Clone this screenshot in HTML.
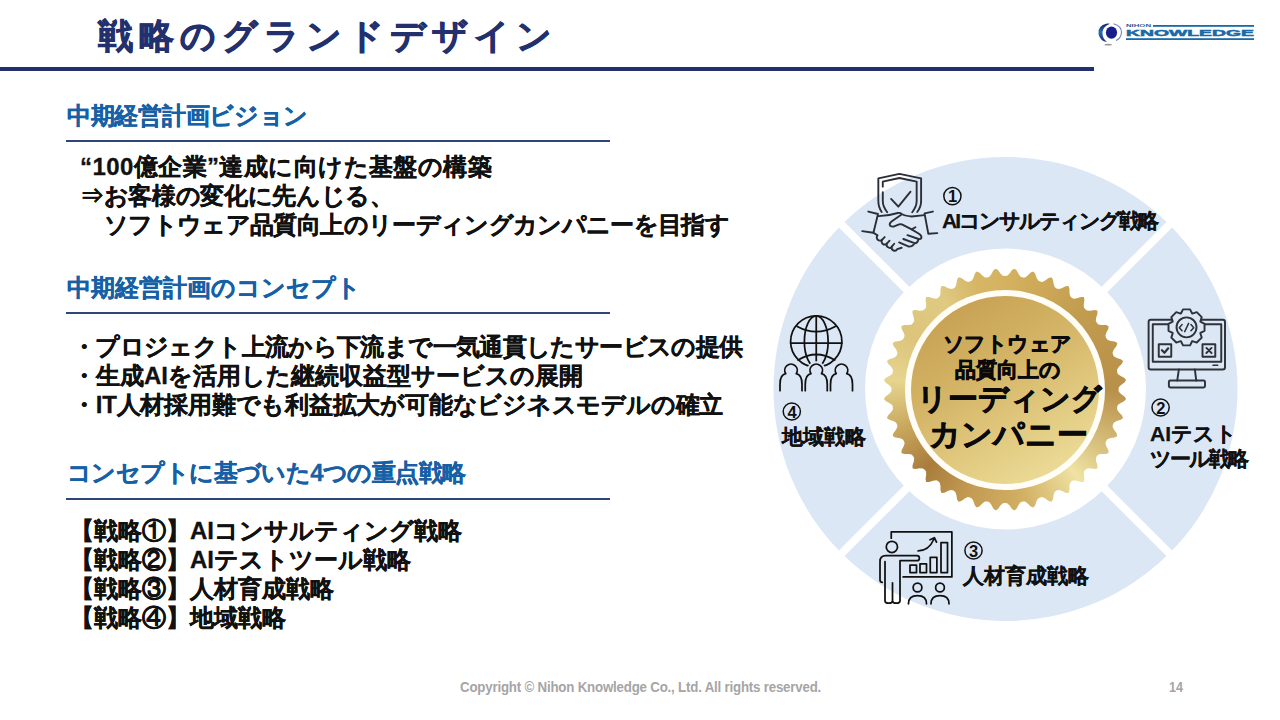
<!DOCTYPE html>
<html lang="ja">
<head>
<meta charset="utf-8">
<style>
html,body{margin:0;padding:0;background:#fff;}
body{width:1280px;height:720px;overflow:hidden;position:relative;font-family:"Liberation Sans",sans-serif;}
.t{position:absolute;white-space:nowrap;line-height:1;}
.title{left:97.5px;top:17.5px;font-size:35px;font-weight:bold;color:#23306e;letter-spacing:6px;-webkit-text-stroke:0.8px #23306e;}
.hline{position:absolute;left:0;top:67px;width:1094px;height:4px;background:#23306e;}
.h3{letter-spacing:-0.58px;}
.h{left:67px;font-size:24px;font-weight:bold;color:#1660a6;-webkit-text-stroke:0.3px #1660a6;}
.ul{position:absolute;left:66px;width:544px;height:2px;background:#2f4677;}
.b{font-size:24px;font-weight:bold;color:#111;-webkit-text-stroke:0.3px #111;}
.foot{left:460px;top:680px;font-size:14px;font-weight:bold;color:#a5a5a5;transform-origin:0 0;transform:scaleX(0.948);letter-spacing:-0.2px;}
.pg{left:1169px;top:680px;font-size:14px;font-weight:bold;color:#a5a5a5;transform-origin:0 0;transform:scaleX(0.9);}
.seal{position:absolute;left:884px;top:268.5px;width:242px;height:242px;background:conic-gradient(from 0deg at 50% 50%,#d4b25f 0deg,#c29c4e 45deg,#b8904a 90deg,#ddc886 125deg,#efe3a3 140deg,#d2b064 170deg,#c39a52 200deg,#a97c3c 225deg,#c9a85e 250deg,#e6d48f 275deg,#dcc47a 300deg,#e0ca82 325deg,#d6b666 345deg,#d4b25f 360deg);}
.sealring{position:absolute;left:905px;top:289.5px;width:200px;height:200px;border-radius:50%;background:#fffdf6;}
.sealdisc{position:absolute;left:911px;top:295.5px;width:188px;height:188px;border-radius:50%;background:linear-gradient(150deg,#c29a4c 0%,#d4b466 40%,#e3cd84 70%,#f1e4a4 100%);}
.st{font-weight:bold;color:#0a0a0a;-webkit-text-stroke:0.7px #0a0a0a;}
.d{font-size:21px;font-weight:bold;color:#111;-webkit-text-stroke:0.25px #111;}
</style>
</head>
<body>
<div class="t title">戦略のグランドデザイン</div>
<div class="hline"></div>

<!-- logo -->
<svg style="position:absolute;left:1090px;top:14px" width="180" height="40" viewBox="1090 14 180 40">
  <defs><linearGradient id="lg1" x1="0" y1="0" x2="0" y2="1"><stop offset="0" stop-color="#101d70"/><stop offset="0.45" stop-color="#2a6fae"/><stop offset="1" stop-color="#1b2a80"/></linearGradient></defs>
  <ellipse cx="1108.2" cy="44.7" rx="3.6" ry="0.9" fill="#9a9a9a"/>
  <path d="M1107,23.5 Q1097,26 1098.5,34 Q1100,41 1107,42 Q1102,38 1102.5,32 Q1103,26.5 1110,23.8 Z" fill="url(#lg1)"/>
  <path d="M1113.5,23.8 Q1121.5,26 1121.5,32.5 Q1121,38.5 1116,40.5" stroke="#6f7fc4" stroke-width="1.1" fill="none"/>
  <ellipse cx="1111.5" cy="32.6" rx="5.6" ry="6.2" fill="#181d8a"/>
  <rect x="1153" y="25" width="101" height="1.8" fill="#1a6aa8"/>
  <rect x="1126" y="38.2" width="128" height="1.8" fill="#1a6aa8"/>
  <text x="1126" y="27.3" font-size="4" font-weight="bold" fill="#2a5a96" font-family="Liberation Sans" textLength="25" lengthAdjust="spacingAndGlyphs">NIHON</text>
  <text x="1126" y="36" font-size="9.2" font-weight="bold" fill="#1a6aa8" stroke="#1a6aa8" stroke-width="0.5" font-family="Liberation Sans" textLength="128" lengthAdjust="spacingAndGlyphs">KNOWLEDGE</text>
</svg>

<div class="t h" style="top:104px;letter-spacing:-0.3px">中期経営計画ビジョン</div>
<div class="ul" style="top:140px"></div>
<div class="t b" style="left:80px;top:155px;letter-spacing:0.42px">“100億企業”達成に向けた基盤の構築</div>
<div class="t b" style="left:80px;top:184px;letter-spacing:-0.33px">⇒お客様の変化に先んじる、</div>
<div class="t b" style="left:104px;top:213px;letter-spacing:-0.65px">ソフトウェア品質向上のリーディングカンパニーを目指す</div>

<div class="t h" style="top:276px">中期経営計画のコンセプト</div>
<div class="ul" style="top:312px"></div>
<div class="t b" style="left:72px;top:335px;letter-spacing:-0.63px">・プロジェクト上流から下流まで一気通貫したサービスの提供</div>
<div class="t b" style="left:72px;top:364px">・生成AIを活用した継続収益型サービスの展開</div>
<div class="t b" style="left:72px;top:393px;letter-spacing:-0.22px">・IT人材採用難でも利益拡大が可能なビジネスモデルの確立</div>

<div class="t h h3" style="top:461px">コンセプトに基づいた4つの重点戦略</div>
<div class="ul" style="top:498px"></div>
<div class="t b" style="left:70px;top:519px">【戦略①】AIコンサルティング戦略</div>
<div class="t b" style="left:70px;top:548px">【戦略②】AIテストツール戦略</div>
<div class="t b" style="left:70px;top:577px">【戦略③】人材育成戦略</div>
<div class="t b" style="left:70px;top:606px">【戦略④】地域戦略</div>

<!-- diagram -->
<svg style="position:absolute;left:0;top:0" width="1280" height="720" viewBox="0 0 1280 720">
  <circle cx="1005.5" cy="389" r="232" fill="#dbe7f5"/>
  <circle cx="1005.5" cy="389" r="140.5" fill="#fff"/>
  <g stroke="#fff" stroke-width="8">
    <line x1="837" y1="220" x2="916" y2="299"/>
    <line x1="1174" y1="220" x2="1095" y2="299"/>
    <line x1="837" y1="558" x2="916" y2="479"/>
    <line x1="1174" y1="558" x2="1095" y2="479"/>
  </g>
</svg>
<svg style="position:absolute;left:0;top:0" width="1280" height="720" viewBox="0 0 1280 720" fill="none" stroke-linecap="round" stroke-linejoin="round">
  <!-- icon1 shield handshake -->
  <g transform="translate(860,170) scale(0.1111)" stroke="#2a2e36" stroke-width="17">
    <path d="M195,378 Q165,335 165,280 L165,75 L355,35 L550,75 L550,280 Q550,335 515,378"/>
    <path d="M205,150 L205,105 L355,72 L510,105 L510,280 Q510,330 470,380"/>
    <path d="M205,200 L205,280 Q205,330 245,380"/>
    <path d="M280,260 L345,330 L455,195"/>
    <path d="M75,374 L162,396 L121,565 M20,550 L121,565"/>
    <path d="M581,390 L656,374 M581,393 L615,574 L696,568"/>
    <path d="M162,415 Q246,416 340,387 Q362,383 375,395 Q396,412 465,418 L581,406"/>
    <path d="M371,402 L290,459 Q258,482 271,502 Q285,512 302,509 L352,490 Q365,486 377,490 L465,534 L527,571 Q560,590 552,612 Q545,625 527,621 L427,587"/>
    <path d="M465,534 L499,515"/>
    <path d="M527,621 Q520,660 490,659 L390,621 M490,659 Q478,690 440,690 L352,652"/>
    <path d="M121,565 L158,588 A10,10 0 0 0 200,626 A10,10 0 0 0 244,660 A10,10 0 0 0 288,688 A10,10 0 0 0 335,712 L375,700"/>
    <path d="M200,626 L222,604 M244,660 L266,636 M288,688 L308,664"/>
  </g>
  <!-- icon2 monitor gear -->
  <g transform="translate(1140,300) scale(0.13889)" stroke="#2f3238" stroke-width="14">
    <rect x="62" y="142" width="550" height="358" rx="16"/>
    <path d="M92,445 L92,175 L585,175 L585,445 Z"/>
    <path d="M525,470 L560,470" stroke-width="10"/>
    <path d="M280,500 L268,580 M395,500 L405,580"/>
    <rect x="208" y="580" width="260" height="50" rx="10"/>
    <path d="M294.5,96.9 L309.8,67.4 L360.2,67.4 L375.5,96.9 L377.2,97.6 L408.8,87.6 L444.4,123.2 L434.4,154.8 L435.1,156.5 L464.6,171.8 L464.6,222.2 L435.1,237.5 L434.4,239.2 L444.4,270.8 L408.8,306.4 L377.2,296.4 L375.5,297.1 L360.2,326.6 L309.8,326.6 L294.5,297.1 L292.8,296.4 L261.2,306.4 L225.6,270.8 L235.6,239.2 L234.9,237.5 L205.4,222.2 L205.4,171.8 L234.9,156.5 L235.6,154.8 L225.6,123.2 L261.2,87.6 L292.8,97.6 Z" fill="#dbe7f5"/>
    <circle cx="335" cy="197" r="72"/>
    <path d="M303,177 L283,199 L303,221 M350,168 L322,228 M367,177 L387,199 L367,221" stroke-width="11"/>
    <rect x="135" y="318" width="90" height="90"/>
    <path d="M158,362 L176,380 L203,348" stroke-width="16"/>
    <rect x="450" y="318" width="92" height="90"/>
    <path d="M478,345 L515,382 M515,345 L478,382" stroke-width="14"/>
  </g>
  <!-- icon3 presenter -->
  <g transform="translate(870,525) scale(0.125)" stroke="#111" stroke-width="14">
    <path d="M170,105 L170,55 L655,55 L655,415 L265,415"/>
    <circle cx="175" cy="175" r="45"/>
    <path d="M98,458 Q80,458 80,438 L80,292 Q80,245 127,245 L375,245 Q395,245 395,265 Q395,285 375,285 L240,285 L240,605 Q240,625 210,625 Q180,625 180,605 L180,462 L180,605 Q180,625 150,625 Q120,625 120,605 L120,292"/>
    <rect x="320" y="320" width="52" height="60"/>
    <rect x="400" y="310" width="52" height="70"/>
    <rect x="482" y="258" width="53" height="122"/>
    <rect x="568" y="140" width="52" height="240"/>
    <path d="M385,207 Q470,207 512,112 M480,118 L515,102 L532,137"/>
    <circle cx="380" cy="500" r="35"/>
    <circle cx="560" cy="500" r="35"/>
    <path d="M308,630 Q308,565 380,565 Q452,565 452,630 M488,630 Q488,565 560,565 Q632,565 632,630"/>
  </g>
  <!-- icon4 globe people -->
  <g transform="translate(775,310) scale(0.125)" stroke="#111" stroke-width="14">
    <circle cx="330" cy="252" r="205"/>
    <ellipse cx="330" cy="252" rx="95" ry="205"/>
    <path d="M330,47 L330,457 M125,265 L535,265"/>
    <path d="M178,132 Q330,215 482,132 M185,400 Q330,312 478,400"/>
    <path d="M40,645 L40,595 Q40,517.5 86,509.5 A50,50 0 1 1 170,509.5 Q216,517.5 216,595 L216,645" fill="#dbe7f5" stroke="#dbe7f5" stroke-width="44"/>
<path d="M242,645 L242,595 Q242,517.5 288,509.5 A50,50 0 1 1 372,509.5 Q418,517.5 418,595 L418,645" fill="#dbe7f5" stroke="#dbe7f5" stroke-width="44"/>
<path d="M444,645 L444,595 Q444,517.5 490,509.5 A50,50 0 1 1 574,509.5 Q620,517.5 620,595 L620,645" fill="#dbe7f5" stroke="#dbe7f5" stroke-width="44"/>
    <path d="M40,645 L40,595 Q40,517.5 86,509.5 A50,50 0 1 1 170,509.5 Q216,517.5 216,595 L216,645" fill="#dbe7f5"/>
<path d="M242,645 L242,595 Q242,517.5 288,509.5 A50,50 0 1 1 372,509.5 Q418,517.5 418,595 L418,645" fill="#dbe7f5"/>
<path d="M444,645 L444,595 Q444,517.5 490,509.5 A50,50 0 1 1 574,509.5 Q620,517.5 620,595 L620,645" fill="#dbe7f5"/>
  </g>
</svg>
<div class="seal" style="clip-path:polygon(121.0px 7.5px, 123.2px 7.2px, 125.6px 5.0px, 128.0px 1.5px, 130.5px -0.1px, 132.7px 1.9px, 134.7px 5.7px, 136.6px 8.2px, 138.8px 8.9px, 141.0px 8.9px, 143.7px 7.1px, 146.7px 4.1px, 149.4px 2.9px, 151.2px 5.2px, 152.5px 9.2px, 154.1px 12.0px, 156.1px 13.1px, 158.3px 13.4px, 161.2px 12.0px, 164.6px 9.5px, 167.5px 8.7px, 169.0px 11.3px, 169.6px 15.5px, 170.7px 18.5px, 172.5px 19.9px, 174.7px 20.6px, 177.7px 19.7px, 181.5px 17.7px, 184.5px 17.4px, 185.5px 20.2px, 185.5px 24.4px, 186.1px 27.6px, 187.7px 29.2px, 189.7px 30.2px, 192.9px 29.8px, 196.9px 28.5px, 199.9px 28.6px, 200.5px 31.5px, 199.8px 35.7px, 199.9px 38.9px, 201.3px 40.7px, 203.1px 42.1px, 206.3px 42.2px, 210.5px 41.5px, 213.4px 42.1px, 213.5px 45.1px, 212.2px 49.1px, 211.8px 52.3px, 212.8px 54.3px, 214.4px 55.9px, 217.6px 56.5px, 221.8px 56.5px, 224.6px 57.5px, 224.3px 60.5px, 222.3px 64.3px, 221.4px 67.3px, 222.1px 69.5px, 223.5px 71.3px, 226.5px 72.4px, 230.7px 73.0px, 233.3px 74.5px, 232.5px 77.4px, 230.0px 80.8px, 228.6px 83.7px, 228.9px 85.9px, 230.0px 87.9px, 232.8px 89.5px, 236.8px 90.8px, 239.1px 92.6px, 237.9px 95.3px, 234.9px 98.3px, 233.1px 101.0px, 233.1px 103.2px, 233.8px 105.4px, 236.3px 107.3px, 240.1px 109.3px, 242.1px 111.5px, 240.5px 114.0px, 237.0px 116.4px, 234.8px 118.8px, 234.5px 121.0px, 234.8px 123.2px, 237.0px 125.6px, 240.5px 128.0px, 242.1px 130.5px, 240.1px 132.7px, 236.3px 134.7px, 233.8px 136.6px, 233.1px 138.8px, 233.1px 141.0px, 234.9px 143.7px, 237.9px 146.7px, 239.1px 149.4px, 236.8px 151.2px, 232.8px 152.5px, 230.0px 154.1px, 228.9px 156.1px, 228.6px 158.3px, 230.0px 161.2px, 232.5px 164.6px, 233.3px 167.5px, 230.7px 169.0px, 226.5px 169.6px, 223.5px 170.7px, 222.1px 172.5px, 221.4px 174.7px, 222.3px 177.7px, 224.3px 181.5px, 224.6px 184.5px, 221.8px 185.5px, 217.6px 185.5px, 214.4px 186.1px, 212.8px 187.7px, 211.8px 189.7px, 212.2px 192.9px, 213.5px 196.9px, 213.4px 199.9px, 210.5px 200.5px, 206.3px 199.8px, 203.1px 199.9px, 201.3px 201.3px, 199.9px 203.1px, 199.8px 206.3px, 200.5px 210.5px, 199.9px 213.4px, 196.9px 213.5px, 192.9px 212.2px, 189.7px 211.8px, 187.7px 212.8px, 186.1px 214.4px, 185.5px 217.6px, 185.5px 221.8px, 184.5px 224.6px, 181.5px 224.3px, 177.7px 222.3px, 174.7px 221.4px, 172.5px 222.1px, 170.7px 223.5px, 169.6px 226.5px, 169.0px 230.7px, 167.5px 233.3px, 164.6px 232.5px, 161.2px 230.0px, 158.3px 228.6px, 156.1px 228.9px, 154.1px 230.0px, 152.5px 232.8px, 151.2px 236.8px, 149.4px 239.1px, 146.7px 237.9px, 143.7px 234.9px, 141.0px 233.1px, 138.8px 233.1px, 136.6px 233.8px, 134.7px 236.3px, 132.7px 240.1px, 130.5px 242.1px, 128.0px 240.5px, 125.6px 237.0px, 123.2px 234.8px, 121.0px 234.5px, 118.8px 234.8px, 116.4px 237.0px, 114.0px 240.5px, 111.5px 242.1px, 109.3px 240.1px, 107.3px 236.3px, 105.4px 233.8px, 103.2px 233.1px, 101.0px 233.1px, 98.3px 234.9px, 95.3px 237.9px, 92.6px 239.1px, 90.8px 236.8px, 89.5px 232.8px, 87.9px 230.0px, 85.9px 228.9px, 83.7px 228.6px, 80.8px 230.0px, 77.4px 232.5px, 74.5px 233.3px, 73.0px 230.7px, 72.4px 226.5px, 71.3px 223.5px, 69.5px 222.1px, 67.3px 221.4px, 64.3px 222.3px, 60.5px 224.3px, 57.5px 224.6px, 56.5px 221.8px, 56.5px 217.6px, 55.9px 214.4px, 54.3px 212.8px, 52.3px 211.8px, 49.1px 212.2px, 45.1px 213.5px, 42.1px 213.4px, 41.5px 210.5px, 42.2px 206.3px, 42.1px 203.1px, 40.7px 201.3px, 38.9px 199.9px, 35.7px 199.8px, 31.5px 200.5px, 28.6px 199.9px, 28.5px 196.9px, 29.8px 192.9px, 30.2px 189.7px, 29.2px 187.7px, 27.6px 186.1px, 24.4px 185.5px, 20.2px 185.5px, 17.4px 184.5px, 17.7px 181.5px, 19.7px 177.7px, 20.6px 174.7px, 19.9px 172.5px, 18.5px 170.7px, 15.5px 169.6px, 11.3px 169.0px, 8.7px 167.5px, 9.5px 164.6px, 12.0px 161.2px, 13.4px 158.3px, 13.1px 156.1px, 12.0px 154.1px, 9.2px 152.5px, 5.2px 151.2px, 2.9px 149.4px, 4.1px 146.7px, 7.1px 143.7px, 8.9px 141.0px, 8.9px 138.8px, 8.2px 136.6px, 5.7px 134.7px, 1.9px 132.7px, -0.1px 130.5px, 1.5px 128.0px, 5.0px 125.6px, 7.2px 123.2px, 7.5px 121.0px, 7.2px 118.8px, 5.0px 116.4px, 1.5px 114.0px, -0.1px 111.5px, 1.9px 109.3px, 5.7px 107.3px, 8.2px 105.4px, 8.9px 103.2px, 8.9px 101.0px, 7.1px 98.3px, 4.1px 95.3px, 2.9px 92.6px, 5.2px 90.8px, 9.2px 89.5px, 12.0px 87.9px, 13.1px 85.9px, 13.4px 83.7px, 12.0px 80.8px, 9.5px 77.4px, 8.7px 74.5px, 11.3px 73.0px, 15.5px 72.4px, 18.5px 71.3px, 19.9px 69.5px, 20.6px 67.3px, 19.7px 64.3px, 17.7px 60.5px, 17.4px 57.5px, 20.2px 56.5px, 24.4px 56.5px, 27.6px 55.9px, 29.2px 54.3px, 30.2px 52.3px, 29.8px 49.1px, 28.5px 45.1px, 28.6px 42.1px, 31.5px 41.5px, 35.7px 42.2px, 38.9px 42.1px, 40.7px 40.7px, 42.1px 38.9px, 42.2px 35.7px, 41.5px 31.5px, 42.1px 28.6px, 45.1px 28.5px, 49.1px 29.8px, 52.3px 30.2px, 54.3px 29.2px, 55.9px 27.6px, 56.5px 24.4px, 56.5px 20.2px, 57.5px 17.4px, 60.5px 17.7px, 64.3px 19.7px, 67.3px 20.6px, 69.5px 19.9px, 71.3px 18.5px, 72.4px 15.5px, 73.0px 11.3px, 74.5px 8.7px, 77.4px 9.5px, 80.8px 12.0px, 83.7px 13.4px, 85.9px 13.1px, 87.9px 12.0px, 89.5px 9.2px, 90.8px 5.2px, 92.6px 2.9px, 95.3px 4.1px, 98.3px 7.1px, 101.0px 8.9px, 103.2px 8.9px, 105.4px 8.2px, 107.3px 5.7px, 109.3px 1.9px, 111.5px -0.1px, 114.0px 1.5px, 116.4px 5.0px, 118.8px 7.2px)"></div>
<div class="sealring"></div>
<div class="sealdisc"></div>
<div class="t st" style="left:943px;top:333px;font-size:21px;letter-spacing:-0.6px">ソフトウェア</div>
<div class="t st" style="left:955px;top:359px;font-size:21px">品質向上の</div>
<div class="t st" style="left:917px;top:384px;font-size:30px">リーディング</div>
<div class="t st" style="left:929px;top:419px;font-size:31px">カンパニー</div>

<div class="t d" style="left:942px;top:210px;letter-spacing:-2px">AIコンサルティング戦略</div>
<div class="t d" style="left:1150px;top:423px">AIテスト</div>
<div class="t d" style="left:1150px;top:448px;letter-spacing:-2px">ツール戦略</div>
<div class="t d" style="left:963px;top:565px">人材育成戦略</div>
<div class="t d" style="left:782px;top:426px">地域戦略</div>

<svg style="position:absolute;left:0;top:0" width="1280" height="720" viewBox="0 0 1280 720">
  <g fill="none" stroke="#111" stroke-width="1.5">
    <circle cx="952.4" cy="196.1" r="8.6"/>
    <circle cx="1160.6" cy="407.5" r="8.6"/>
    <circle cx="973.5" cy="550.5" r="8.6"/>
    <circle cx="791.8" cy="411.5" r="8.6"/>
  </g>
  <g fill="#111" font-family="Liberation Sans" font-weight="bold" font-size="16.5" text-anchor="middle">
    <text x="952.6" y="202.1">1</text>
    <text x="1160.8" y="413.5">2</text>
    <text x="973.7" y="556.5">3</text>
    <text x="792" y="417.5">4</text>
  </g>
</svg>
<div class="t foot">Copyright © Nihon Knowledge Co., Ltd. All rights reserved.</div>
<div class="t pg">14</div>
</body>
</html>
